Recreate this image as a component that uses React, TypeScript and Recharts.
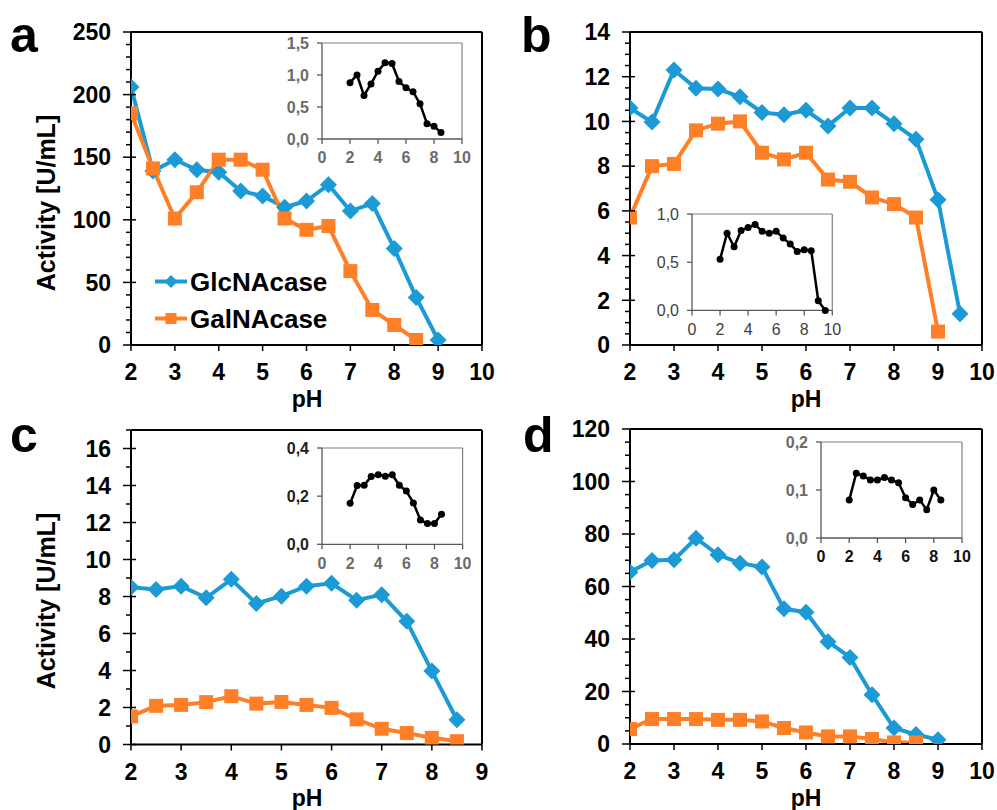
import React from 'react';
import { LineChart, Line, XAxis, YAxis, ReferenceLine, Legend } from 'recharts';

const FONT = 'Arial, "Liberation Sans", sans-serif';
const BLUE = '#1b9ad6';
const ORANGE = '#ff7f27';

// panel a
const phA = [2, 2.5, 3, 3.5, 4, 4.5, 5, 5.5, 6, 6.5, 7, 7.5, 8, 8.5, 9];
const glcA = [206, 139, 148, 140, 138, 123, 119, 110, 115, 128, 107, 113, 77, 38, 4];
const galA = [185, 141, 101, 122, 148, 148, 140, 101, 92, 95, 59, 28, 16, 4];

// panel b
const phB = [2, 2.5, 3, 3.5, 4, 4.5, 5, 5.5, 6, 6.5, 7, 7.5, 8, 8.5, 9, 9.5];
const glcB = [10.6, 9.97, 12.3, 11.48, 11.45, 11.1, 10.4, 10.3, 10.5, 9.8, 10.6, 10.6, 9.9, 9.2, 6.5, 1.4];
const galB = [5.7, 8.0, 8.1, 9.6, 9.9, 10.0, 8.6, 8.3, 8.6, 7.4, 7.3, 6.6, 6.3, 5.7, 0.6];

// panel c
const phC = [2, 2.5, 3, 3.5, 4, 4.5, 5, 5.5, 6, 6.5, 7, 7.5, 8, 8.5];
const glcC = [8.5, 8.38, 8.56, 7.93, 8.93, 7.62, 8.02, 8.56, 8.71, 7.8, 8.1, 6.66, 3.97, 1.34];
const galC = [1.52, 2.09, 2.14, 2.29, 2.61, 2.21, 2.3, 2.14, 1.98, 1.36, 0.85, 0.62, 0.36, 0.18];

// panel d
const phD = [2, 2.5, 3, 3.5, 4, 4.5, 5, 5.5, 6, 6.5, 7, 7.5, 8, 8.5, 9];
const glcD = [65.5, 69.9, 70.2, 78.4, 72.1, 68.9, 67.4, 51.5, 50.2, 39, 33, 18.8, 6.1, 3.6, 1.65];
const galD = [5.7, 9.5, 9.5, 9.5, 9.2, 9.2, 8.6, 6.1, 4.4, 2.9, 2.9, 1.9, 0.6, 0.6];

// insets
const insetPhA = [2, 2.5, 3, 3.5, 4, 4.5, 5, 5.5, 6, 6.5, 7, 7.5, 8, 8.5];
const insetA = [0.88, 1.0, 0.68, 0.86, 1.06, 1.19, 1.18, 0.9, 0.8, 0.74, 0.55, 0.24, 0.2, 0.1];
const insetPhB = [2, 2.5, 3, 3.5, 4, 4.5, 5, 5.5, 6, 6.5, 7, 7.5, 8, 8.5, 9, 9.5];
const insetB = [0.53, 0.8, 0.66, 0.83, 0.86, 0.89, 0.82, 0.8, 0.82, 0.75, 0.69, 0.61, 0.63, 0.62, 0.1, 0.0];
const insetPhC = [2, 2.5, 3, 3.5, 4, 4.5, 5, 5.5, 6, 6.5, 7, 7.5, 8, 8.5];
const insetC = [0.17, 0.244, 0.245, 0.282, 0.289, 0.283, 0.289, 0.245, 0.221, 0.172, 0.101, 0.086, 0.086, 0.125];
const insetPhD = [2, 2.5, 3, 3.5, 4, 4.5, 5, 5.5, 6, 6.5, 7, 7.5, 8, 8.5];
const insetD = [0.079, 0.135, 0.129, 0.121, 0.121, 0.126, 0.121, 0.115, 0.084, 0.07, 0.079, 0.059, 0.1, 0.079];

// ticks
const xTicks10 = [2, 3, 4, 5, 6, 7, 8, 9, 10];
const xTicks9 = [2, 3, 4, 5, 6, 7, 8, 9];
const yMajorA = [0, 50, 100, 150, 200, 250];
const yMajorB = [0, 2, 4, 6, 8, 10, 12, 14];
const yMajorC = [0, 2, 4, 6, 8, 10, 12, 14, 16];
const yMajorD = [0, 20, 40, 60, 80, 100, 120];
const insetXTicks = [0, 2, 4, 6, 8, 10];

const range = (max: number, step: number) => {
  const out: number[] = [];
  for (let v = 0; v <= max + 1e-9; v += step) out.push(Math.round(v * 100) / 100);
  return out;
};

const rows = (ph: number[], glc: number[], gal: number[]) =>
  ph.map((p, i) => ({ ph: p, glc: glc[i], gal: gal[i] }));
const insetRows = (ph: number[], v: number[]) => ph.map((p, i) => ({ ph: p, v: v[i] }));

const comma = (v: number) => v.toFixed(1).replace('.', ',');

const Diamond = ({ cx, cy, s = 8.5, color }: any) => (
  <path d={`M${cx},${cy - s}L${cx + s},${cy}L${cx},${cy + s}L${cx - s},${cy}Z`} fill={color} />
);
const Square = ({ cx, cy, s = 7, color }: any) => (
  <rect x={cx - s} y={cy - s} width={s * 2} height={s * 2} fill={color} />
);

const diamondDot = (p: any) =>
  p.cy == null ? <g key={p.key} /> : <Diamond key={p.key} cx={p.cx} cy={p.cy} color={BLUE} />;
const squareDot = (p: any) =>
  p.cy == null ? <g key={p.key} /> : <Square key={p.key} cx={p.cx} cy={p.cy} color={ORANGE} />;

const YTick = ({ x, y, payload, major }: any) => {
  const isMajor = major.includes(payload.value);
  return (
    <g>
      <line x1={isMajor ? x - 8 : x - 5} x2={isMajor ? x + 5 : x} y1={y} y2={y} stroke="#000" strokeWidth={1.5} />
      {isMajor && (
        <text x={x - 20} y={y} dy="0.36em" textAnchor="end" fill="#000" fontSize={23} fontWeight={700} fontFamily={FONT}>
          {payload.value}
        </text>
      )}
    </g>
  );
};

const LegendBox = () => (
  <div style={{ fontFamily: FONT, fontWeight: 700, fontSize: 26, color: '#000' }}>
    {[
      { name: 'GlcNAcase', color: BLUE, diamond: true },
      { name: 'GalNAcase', color: ORANGE, diamond: false },
    ].map((e) => (
      <div key={e.name} style={{ display: 'flex', alignItems: 'center', height: 37 }}>
        <svg width={35} height={37}>
          <line x1={0} x2={32} y1={18.5} y2={18.5} stroke={e.color} strokeWidth={4} />
          {e.diamond ? (
            <Diamond cx={16} cy={18.5} s={6.5} color={e.color} />
          ) : (
            <Square cx={16} cy={18.5} s={5.5} color={e.color} />
          )}
        </svg>
        <span style={{ lineHeight: 1 }}>{e.name}</span>
      </div>
    ))}
  </div>
);

type Box = { l: number; t: number; r: number; b: number };

const Panel = ({ box, data, xDomain, xTicks, yDomain, yMajor, yMinor, legend }: any) => {
  const b: Box = box;
  return (
    <div style={{ position: 'absolute', left: b.l - 120, top: b.t - 20 }}>
      <LineChart
        width={b.r - b.l + 140}
        height={b.b - b.t + 80}
        data={data}
        margin={{ top: 20, right: 20, left: 60, bottom: 20 }}
      >
        <XAxis
          type="number"
          dataKey="ph"
          domain={xDomain}
          ticks={xTicks}
          interval={0}
          height={40}
          allowDataOverflow
          axisLine={{ stroke: '#000', strokeWidth: 2 }}
          tickLine={{ stroke: '#000', strokeWidth: 1.5 }}
          tickSize={6}
          tickMargin={13}
          tick={{ fill: '#000', fontSize: 23, fontWeight: 700, fontFamily: FONT }}
        />
        <YAxis
          type="number"
          domain={yDomain}
          ticks={yMinor}
          interval={0}
          width={60}
          allowDataOverflow
          axisLine={{ stroke: '#000', strokeWidth: 2 }}
          tickLine={false}
          tickSize={0}
          tickMargin={0}
          tick={(p: any) => <YTick {...p} major={yMajor} />}
        />
        <ReferenceLine y={yDomain[1]} stroke="#000" strokeWidth={2} />
        <ReferenceLine x={xDomain[1]} stroke="#000" strokeWidth={2} />
        {legend && (
          <Legend
            layout="vertical"
            align="center"
            verticalAlign="middle"
            content={() => <LegendBox />}
            wrapperStyle={{ left: 144, top: 251, width: 'auto' }}
          />
        )}
        <Line dataKey="glc" stroke={BLUE} strokeWidth={4} dot={diamondDot} isAnimationActive={false} />
        <Line dataKey="gal" stroke={ORANGE} strokeWidth={4} dot={squareDot} isAnimationActive={false} />
      </LineChart>
    </div>
  );
};

const Inset = ({ box, data, yMax, yTicks, yColor, xColor, weight }: any) => {
  const b: Box = box;
  const tickFont = { fontSize: 16, fontWeight: weight, fontFamily: FONT };
  return (
    <div style={{ position: 'absolute', left: b.l - 60, top: b.t - 10 }}>
      <LineChart
        width={b.r - b.l + 80}
        height={b.b - b.t + 45}
        data={data}
        margin={{ top: 10, right: 20, left: 15, bottom: 5 }}
      >
        <XAxis
          type="number"
          dataKey="ph"
          domain={[0, 10]}
          ticks={insetXTicks}
          interval={0}
          height={30}
          axisLine={{ stroke: '#595959', strokeWidth: 1.3 }}
          tickLine={{ stroke: '#595959', strokeWidth: 1.3 }}
          tickSize={5}
          tickMargin={8}
          tick={{ ...tickFont, fill: xColor }}
        />
        <YAxis
          type="number"
          domain={[0, yMax]}
          ticks={yTicks}
          interval={0}
          width={45}
          axisLine={{ stroke: '#595959', strokeWidth: 1.3 }}
          tickLine={{ stroke: '#595959', strokeWidth: 1.3 }}
          tickSize={5}
          tickMargin={8}
          tickFormatter={comma}
          tick={{ ...tickFont, fill: yColor }}
        />
        <ReferenceLine y={yMax} stroke="#808080" strokeWidth={1.2} />
        <ReferenceLine x={10} stroke="#808080" strokeWidth={1.2} />
        <Line
          dataKey="v"
          stroke="#000"
          strokeWidth={2.5}
          dot={{ r: 3.5, fill: '#000', stroke: '#000', strokeWidth: 0 }}
          isAnimationActive={false}
        />
      </LineChart>
    </div>
  );
};

const text = (style: React.CSSProperties, content: string) => (
  <div style={{ position: 'absolute', fontFamily: FONT, fontWeight: 700, color: '#000', lineHeight: 1, whiteSpace: 'nowrap', ...style }}>
    {content}
  </div>
);

export default function App() {
  return (
    <div style={{ position: 'absolute', left: 0, top: 0, width: 997, height: 810, background: '#fff', overflow: 'hidden' }}>
      <Panel
        box={{ l: 131, t: 32, r: 482, b: 345 }}
        data={rows(phA, glcA, galA)}
        xDomain={[2, 10]}
        xTicks={xTicks10}
        yDomain={[0, 250]}
        yMajor={yMajorA}
        yMinor={range(250, 10)}
        legend
      />
      <Panel
        box={{ l: 629.5, t: 32, r: 981.5, b: 345 }}
        data={rows(phB, glcB, galB)}
        xDomain={[2, 10]}
        xTicks={xTicks10}
        yDomain={[0, 14]}
        yMajor={yMajorB}
        yMinor={range(14, 0.5)}
      />
      <Panel
        box={{ l: 131, t: 429.5, r: 482, b: 744 }}
        data={rows(phC, glcC, galC)}
        xDomain={[2, 9]}
        xTicks={xTicks9}
        yDomain={[0, 17]}
        yMajor={yMajorC}
        yMinor={range(17, 1)}
      />
      <Panel
        box={{ l: 630, t: 428.5, r: 982, b: 743.5 }}
        data={rows(phD, glcD, galD)}
        xDomain={[2, 10]}
        xTicks={xTicks10}
        yDomain={[0, 120]}
        yMajor={yMajorD}
        yMinor={range(120, 5)}
      />

      <Inset box={{ l: 321.7, t: 42.7, r: 461.7, b: 138.7 }} data={insetRows(insetPhA, insetA)} yMax={1.5}
        yTicks={[0, 0.5, 1, 1.5]} yColor="#6b6b6b" xColor="#6b6b6b" weight={700} />
      <Inset box={{ l: 692, t: 214.3, r: 832.3, b: 310.7 }} data={insetRows(insetPhB, insetB)} yMax={1}
        yTicks={[0, 0.5, 1]} yColor="#404040" xColor="#404040" weight={400} />
      <Inset box={{ l: 321.7, t: 447.7, r: 462.3, b: 544 }} data={insetRows(insetPhC, insetC)} yMax={0.4}
        yTicks={[0, 0.2, 0.4]} yColor="#222" xColor="#6b6b6b" weight={700} />
      <Inset box={{ l: 820.7, t: 442.3, r: 961.7, b: 538.3 }} data={insetRows(insetPhD, insetD)} yMax={0.2}
        yTicks={[0, 0.1, 0.2]} yColor="#6b6b6b" xColor="#111" weight={700} />

      {text({ left: 10, top: 10, fontSize: 50 }, 'a')}
      {text({ left: 521, top: 10, fontSize: 50 }, 'b')}
      {text({ left: 10, top: 410, fontSize: 50 }, 'c')}
      {text({ left: 523, top: 410, fontSize: 50 }, 'd')}

      {text({ left: 307, top: 388, fontSize: 23, transform: 'translateX(-50%)' }, 'pH')}
      {text({ left: 806, top: 388, fontSize: 23, transform: 'translateX(-50%)' }, 'pH')}
      {text({ left: 307, top: 787, fontSize: 23, transform: 'translateX(-50%)' }, 'pH')}
      {text({ left: 806, top: 787, fontSize: 23, transform: 'translateX(-50%)' }, 'pH')}

      {text({ left: 46, top: 203, fontSize: 25, transform: 'translate(-50%, -50%) rotate(-90deg)' }, 'Activity [U/mL]')}
      {text({ left: 46, top: 601, fontSize: 25, transform: 'translate(-50%, -50%) rotate(-90deg)' }, 'Activity [U/mL]')}
    </div>
  );
}
